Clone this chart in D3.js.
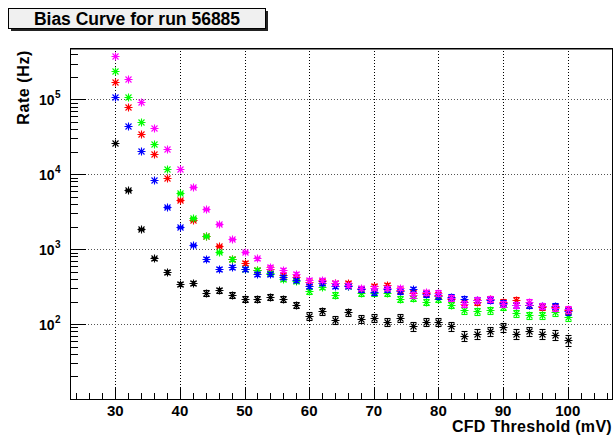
<!DOCTYPE html>
<html>
<head>
<meta charset="utf-8">
<script src="https://cdn.jsdelivr.net/npm/d3@7"></script>
<style>
  body { margin: 0; background: #fff; }
  text { font-family: "Liberation Sans", Arial, Helvetica, sans-serif; font-weight: bold; }
</style>
</head>
<body>
<div id="chart"></div>
<script>
// CFD thresholds (mV)
const thresholds = [30, 32, 34, 36, 38, 40, 42, 44, 46, 48, 50, 52, 54, 56, 58, 60, 62, 64,
                    66, 68, 70, 72, 74, 76, 78, 80, 82, 84, 86, 88, 90, 92, 94, 96, 98, 100];

// Rates (Hz) for each channel
const rateBlack = [25900, 6180, 1850, 766, 488, 344, 350, 261, 281, 246, 219, 219, 233, 219, 181, 129, 150, 114,
                   143, 118, 122, 108, 121, 93, 108, 105, 93, 70, 74, 80, 90, 73, 80, 74, 70.5, 62];
const rateRed = [172000, 78900, 34800, 18500, 8930, 4540, 2460, 1520, 1107, 743, 663, 530, 546, 454, 427, 359, 374, 348,
                 348, 296, 324, 331, 287, 256, 256, 244, 217, 198, 200, 217, 200, 209, 177, 169, 170, 155];
const rateGreen = [240000, 108000, 49800, 25100, 11800, 5580, 2640, 1490, 929, 735, 541, 530, 479, 398, 370, 275, 314, 248,
                   324, 256, 256, 256, 215, 224, 198, 214, 177, 155, 150, 155, 169, 140, 133, 133, 147, 126];
const rateBlue = [106000, 44500, 20600, 8400, 3700, 1965, 1130, 735, 546, 586, 541, 469, 464, 431, 390, 321, 348, 324,
                  324, 293, 270, 293, 275, 293, 251, 235, 228, 215, 211, 211, 191, 181, 177, 172, 172, 150];
const rateMagenta = [378000, 188000, 91200, 41400, 21900, 11700, 6710, 3420, 2175, 1372, 920, 759, 569, 530, 469, 386, 386, 348,
                     337, 305, 305, 305, 305, 248, 270, 261, 226, 185, 211, 217, 187, 177, 200, 172, 163, 160];

// live time (s) used for the Poisson error on each rate
const liveTime = 0.6;

const series = [
    { name: "black", color: "#000000", rates: rateBlack },
    { name: "red", color: "#ff0000", rates: rateRed },
    { name: "green", color: "#00ff00", rates: rateGreen },
    { name: "blue", color: "#0000ff", rates: rateBlue },
    { name: "magenta", color: "#ff00ff", rates: rateMagenta }
];

const xMajor = [30, 40, 50, 60, 70, 80, 90, 100];
const yMajorExp = [2, 3, 4, 5];

const width = 615;
const height = 437;
const frame = { left: 70, right: 613, top: 48, bottom: 399 };

const svg = d3.select("#chart").append("svg")
    .attr("width", width)
    .attr("height", height);

const x = d3.scaleLinear()
    .domain([23, 107])
    .range([frame.left, frame.right]);

const y = d3.scaleLog()
    .domain([10, Math.pow(10, 5.684)])
    .range([frame.bottom, frame.top]);

// Grid (dotted)
const grid = svg.append("g").attr("class", "grid");
grid.selectAll(".gx")
    .data(xMajor)
    .enter().append("line")
    .attr("x1", d => Math.round(x(d)) + 0.5).attr("x2", d => Math.round(x(d)) + 0.5)
    .attr("y1", frame.top).attr("y2", frame.bottom)
    .attr("stroke", "#000").attr("stroke-dasharray", "1,2");
grid.selectAll(".gy")
    .data(yMajorExp)
    .enter().append("line")
    .attr("x1", frame.left).attr("x2", frame.right)
    .attr("y1", d => Math.round(y(Math.pow(10, d))) + 0.5)
    .attr("y2", d => Math.round(y(Math.pow(10, d))) + 0.5)
    .attr("stroke", "#555").attr("stroke-dasharray", "1,2");

// X axis ticks (pointing up into the frame)
const xMinor = d3.range(24, 107, 2).filter(v => v % 10 !== 0);
const xAxis = svg.append("g").attr("class", "x-axis");
xAxis.selectAll(".tmaj")
    .data(xMajor)
    .enter().append("line")
    .attr("x1", d => Math.round(x(d)) + 0.5).attr("x2", d => Math.round(x(d)) + 0.5)
    .attr("y1", frame.bottom).attr("y2", frame.bottom - 11)
    .attr("stroke", "#000");
xAxis.selectAll(".tmin")
    .data(xMinor)
    .enter().append("line")
    .attr("x1", d => Math.round(x(d)) + 0.5).attr("x2", d => Math.round(x(d)) + 0.5)
    .attr("y1", frame.bottom).attr("y2", frame.bottom - 6)
    .attr("stroke", "#000");
xAxis.selectAll(".lbl")
    .data(xMajor)
    .enter().append("text")
    .attr("x", d => x(d))
    .attr("y", 416)
    .attr("text-anchor", "middle")
    .attr("font-size", "15px")
    .text(d => d);

// Y axis ticks
const yMinor = [];
for (let e = 1; e <= 5; e++) {
    for (let k = 2; k <= 9; k++) {
        const v = k * Math.pow(10, e);
        if (v < y.domain()[1]) yMinor.push(v);
    }
}
const yAxis = svg.append("g").attr("class", "y-axis");
yAxis.selectAll(".tmaj")
    .data(yMajorExp)
    .enter().append("line")
    .attr("x1", frame.left).attr("x2", frame.left + 16)
    .attr("y1", d => Math.round(y(Math.pow(10, d))) + 0.5)
    .attr("y2", d => Math.round(y(Math.pow(10, d))) + 0.5)
    .attr("stroke", "#000");
yAxis.selectAll(".tmin")
    .data(yMinor)
    .enter().append("line")
    .attr("x1", frame.left).attr("x2", frame.left + 8)
    .attr("y1", d => Math.round(y(d)) + 0.5)
    .attr("y2", d => Math.round(y(d)) + 0.5)
    .attr("stroke", "#000");
const yl = yAxis.selectAll(".lbl")
    .data(yMajorExp)
    .enter().append("text")
    .attr("x", 39)
    .attr("y", d => y(Math.pow(10, d)) + 6)
    .attr("text-anchor", "start")
    .attr("font-size", "14px");
yl.append("tspan").text("10");
yl.append("tspan")
    .attr("font-size", "10px")
    .attr("dy", -7)
    .attr("dx", 0.5)
    .text(d => d);

// Frame
svg.append("rect")
    .attr("x", frame.left + 0.5)
    .attr("y", frame.top + 0.5)
    .attr("width", frame.right - frame.left - 1)
    .attr("height", frame.bottom - frame.top)
    .attr("fill", "none")
    .attr("stroke", "#000");
svg.append("line")
    .attr("x1", frame.left).attr("x2", frame.right)
    .attr("y1", frame.top + 1).attr("y2", frame.top + 1)
    .attr("stroke", "#000");

// Markers with Poisson error bars
const r = 4;
const marks = svg.append("g").attr("class", "marks");
series.forEach(s => {
    const g = marks.append("g").attr("stroke", s.color).attr("stroke-width", 1.1);
    const pts = thresholds.map((t, i) => {
        const rate = s.rates[i];
        const err = Math.sqrt(rate / liveTime);
        return { t, rate, lo: Math.max(rate - err, 1), hi: rate + err };
    });
    const p = g.selectAll(".pt").data(pts).enter().append("g")
        .attr("transform", d => `translate(${Math.round(x(d.t)) + 0.5},${Math.round(y(d.rate)) + 0.5})`);
    // error bar
    p.append("line")
        .attr("x1", 0).attr("x2", 0)
        .attr("y1", d => y(d.hi) - y(d.rate))
        .attr("y2", d => y(d.lo) - y(d.rate));
    p.append("line")
        .attr("x1", -3).attr("x2", 3)
        .attr("y1", d => Math.round(y(d.hi) - y(d.rate)))
        .attr("y2", d => Math.round(y(d.hi) - y(d.rate)));
    p.append("line")
        .attr("x1", -3).attr("x2", 3)
        .attr("y1", d => Math.round(y(d.lo) - y(d.rate)))
        .attr("y2", d => Math.round(y(d.lo) - y(d.rate)));
    // asterisk marker
    p.append("path")
        .attr("fill", "none")
        .attr("d", `M${-r},0H${r}M0,${-r}V${r}M${-r * 0.75},${-r * 0.75}L${r * 0.75},${r * 0.75}M${-r * 0.75},${r * 0.75}L${r * 0.75},${-r * 0.75}`);
});

// Axis titles
svg.append("text")
    .attr("x", 612)
    .attr("y", 432)
    .attr("text-anchor", "end")
    .attr("font-size", "16px")
    .attr("letter-spacing", "0.3px")
    .text("CFD Threshold (mV)");

svg.append("text")
    .attr("transform", "translate(29,50) rotate(-90)")
    .attr("text-anchor", "end")
    .attr("font-size", "16px")
    .attr("letter-spacing", "0.6px")
    .text("Rate (Hz)");

// Title box with shadow
svg.append("rect")
    .attr("x", 11).attr("y", 11)
    .attr("width", 257).attr("height", 20)
    .attr("fill", "#222");
svg.append("rect")
    .attr("x", 8.5).attr("y", 8.5)
    .attr("width", 257).attr("height", 20)
    .attr("fill", "#f0f0f0")
    .attr("stroke", "#000");
svg.append("text")
    .attr("x", 137)
    .attr("y", 25)
    .attr("text-anchor", "middle")
    .attr("font-size", "17.5px")
    .text("Bias Curve for run 56885");
</script>
</body>
</html>
